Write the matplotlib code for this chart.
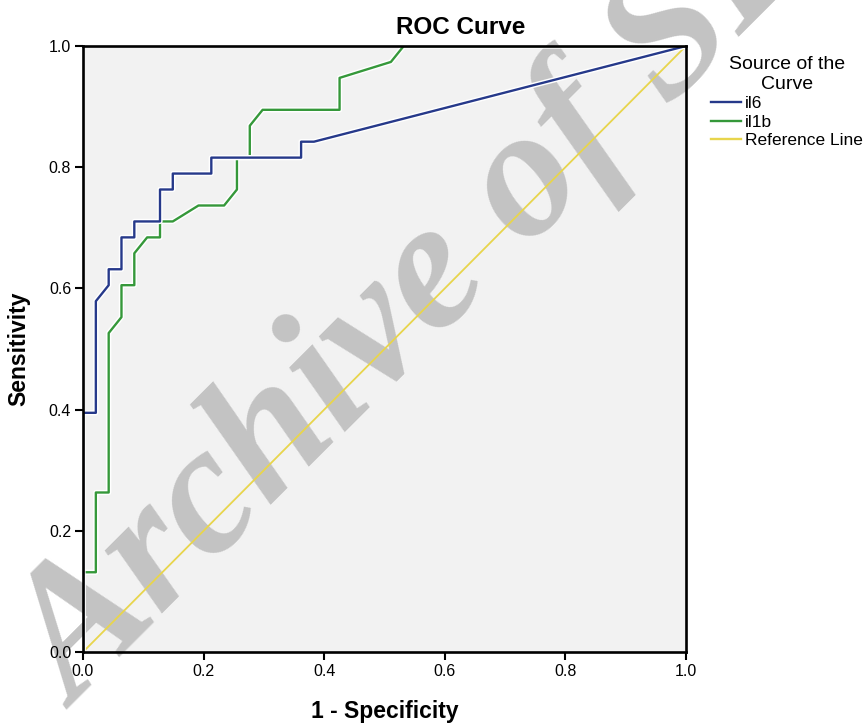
import numpy as np
import matplotlib
matplotlib.use("Agg")
import matplotlib.pyplot as plt
import matplotlib.patheffects as pe

plt.rcParams["font.family"] = ["Liberation Sans", "DejaVu Sans"]

# ROC points (1 - specificity, sensitivity)
il6_fpr = [0.0, 0.0, 0.0213, 0.0213, 0.0426, 0.0426, 0.0638, 0.0638, 0.0851, 0.0851,
           0.1277, 0.1277, 0.1489, 0.1489, 0.2128, 0.2128, 0.3617, 0.3617, 0.3830, 1.0]
il6_tpr = [0.0, 0.3947, 0.3947, 0.5789, 0.6053, 0.6316, 0.6316, 0.6842, 0.6842, 0.7105,
           0.7105, 0.7632, 0.7632, 0.7895, 0.7895, 0.8158, 0.8158, 0.8421, 0.8421, 1.0]

il1b_fpr = [0.0, 0.0, 0.0213, 0.0213, 0.0426, 0.0426, 0.0638, 0.0638, 0.0851, 0.0851,
            0.1064, 0.1277, 0.1277, 0.1489, 0.1915, 0.2340, 0.2553, 0.2553, 0.2766, 0.2766,
            0.2979, 0.4255, 0.4255, 0.5106, 0.5319, 1.0]
il1b_tpr = [0.0, 0.1316, 0.1316, 0.2632, 0.2632, 0.5263, 0.5526, 0.6053, 0.6053, 0.6579,
            0.6842, 0.6842, 0.7105, 0.7105, 0.7368, 0.7368, 0.7632, 0.8158, 0.8158, 0.8684,
            0.8947, 0.8947, 0.9474, 0.9737, 1.0, 1.0]

ref_x = [0.0, 1.0]
ref_y = [0.0, 1.0]

ticks = [0.0, 0.2, 0.4, 0.6, 0.8, 1.0]
tick_labels = ["0.0", "0.2", "0.4", "0.6", "0.8", "1.0"]

W, H = 866, 724
fig = plt.figure(figsize=(W / 100, H / 100), dpi=100)
ax = fig.add_axes([83 / W, 1 - 652 / H, (686 - 83) / W, (652 - 46) / H])
ax.set_facecolor("#f2f2f2")

halo = [pe.Stroke(linewidth=3.8, foreground="white"), pe.Normal()]
ax.plot(ref_x, ref_y, color="#e8d54c", linewidth=1.3, label="Reference Line", zorder=2)
ax.plot(il1b_fpr, il1b_tpr, color="#35983a", linewidth=1.7, label="il1b",
        path_effects=halo, zorder=3)
ax.plot(il6_fpr, il6_tpr, color="#26398a", linewidth=1.7, label="il6",
        path_effects=halo, zorder=4)

ax.set_xlim(0, 1)
ax.set_ylim(0, 1)
ax.set_xticks(ticks)
ax.set_xticklabels(tick_labels)
ax.set_yticks(ticks)
ax.set_yticklabels(tick_labels)
ax.tick_params(direction="out", length=5.5, width=1.5, labelsize=11.5, pad=3,
               colors="black")
for s in ax.spines.values():
    s.set_linewidth(1.9)
    s.set_color("black")
    s.set_zorder(6)

fig.text(461 / W, 1 - 27 / H, "ROC Curve", fontsize=17.5, fontweight="bold",
         ha="center", va="center")
ax.set_xlabel("1 - Specificity", fontsize=16.5, fontweight="bold")
ax.set_ylabel("Sensitivity", fontsize=16.5, fontweight="bold")
ax.xaxis.set_label_coords(0.5, (652 - 700) / 606)
ax.yaxis.set_label_coords((30 - 83) / 603, 0.5)

handles, labels = ax.get_legend_handles_labels()
order = [2, 1, 0]
leg = fig.legend([handles[i] for i in order], [labels[i] for i in order],
                 title="Source of the\nCurve", loc="upper left",
                 bbox_to_anchor=(711 / W, 1 - 56 / H), frameon=False,
                 fontsize=12.5, title_fontsize=14, handlelength=1.7,
                 handletextpad=0.25, labelspacing=0.2, borderaxespad=0,
                 borderpad=0)
leg.get_title().set_multialignment("center")
for line in leg.get_lines():
    line.set_path_effects([])
    line.set_linewidth(1.7)

# watermark, kept under the curves
ax.text(76 / W, 1 - 709 / H, "Archive of SID", transform=fig.transFigure,
        fontsize=133, family=["Liberation Serif", "DejaVu Serif"],
        fontweight="bold", fontstyle="italic", color="#c3c3c3", rotation=45,
        rotation_mode="anchor", ha="left", va="baseline", zorder=1,
        clip_on=False)

fig.savefig("out.png", dpi=100)
